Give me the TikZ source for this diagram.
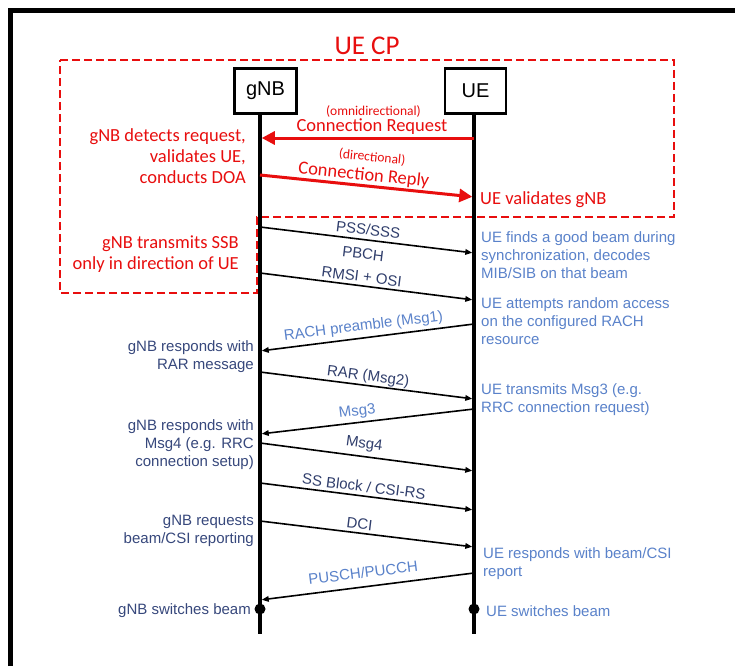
\documentclass[tikz,border=0pt]{standalone}
\usepackage{fontspec}
\setmainfont{Liberation Sans}
\newfontfamily\cpfont{Carlito}
\usetikzlibrary{arrows.meta}
\definecolor{cpred}{RGB}{232,14,14}
\definecolor{gnbtext}{RGB}{55,72,124}
\definecolor{uetext}{RGB}{90,130,202}
\definecolor{dltext}{RGB}{48,62,108}
\begin{document}
\begin{tikzpicture}[x=1pt,y=-1pt,
  frame/.style={line width=5pt, line join=miter},
  entity/.style={draw, line width=2.8pt, minimum height=45pt, inner sep=0pt, font=\fontsize{20}{24}\selectfont},
  lifeline/.style={line width=3.5pt},
  beamdot/.style={circle, fill, inner sep=0pt, minimum size=11pt},
  cpregion/.style={draw=cpred, line width=2pt, dash pattern=on 8pt off 4pt},
  cptext/.style={text=cpred, inner sep=0pt, font=\cpfont\fontsize{18.5}{21}\selectfont},
  cpnote/.style={text=cpred, inner sep=0pt, font=\cpfont\fontsize{13.5}{16}\selectfont},
  cpmsg/.style={draw=cpred, line width=3pt, -{Triangle[length=13pt,width=13pt]}, shorten >=1.75pt},
  dlmsg/.style={line width=1.6pt, -{Triangle[length=7pt,width=5.5pt]}, shorten >=1.75pt},
  ulmsg/.style={line width=1.6pt, {Triangle[length=7pt,width=5.5pt]}-, shorten <=1.75pt},
  msglabel/.style={sloped, inner sep=0pt, font=\fontsize{15}{18}\selectfont},
  dllabel/.style={msglabel, text=dltext},
  ullabel/.style={msglabel, text=uetext},
  gnbnote/.style={text=gnbtext, inner sep=0pt, align=right, anchor=north east, font=\fontsize{15}{18}\selectfont},
  uenote/.style={text=uetext, inner sep=0pt, align=left, anchor=north west, font=\fontsize{15}{18}\selectfont},
]
\useasboundingbox (0,0) rectangle (735,666);
\fill[white] (0,0) rectangle (735,666);

% outer frame
\draw[frame] (10.5,666) -- (10.5,10.5) -- (735,10.5);

% control-plane region
\draw[cpregion] (60,60) -- (674,60) -- (674,217) -- (257,217) -- (257,293) -- (60,293) -- cycle;
\node[text=cpred, inner sep=0pt, anchor=base, font=\cpfont\fontsize{27}{32}\selectfont] (cp) at (367,54.5) {UE CP};

% entities
\node[entity, minimum width=62pt] (gnb) at (265.5,91) {gNB};
\node[entity, minimum width=61pt] (ue) at (475.5,91) {UE};

% lifelines
\coordinate (gtop) at (260,114);
\coordinate (gend) at (260,634);
\coordinate (utop) at (474,114);
\coordinate (uend) at (474,634);
\draw[lifeline] (gtop) -- (gend);
\draw[lifeline] (utop) -- (uend);

% message points on the gNB lifeline
\coordinate (gq) at (260,138);
\coordinate (gr) at (260,175);
\coordinate (g1) at (260,227);
\coordinate (g2) at (260,273);
\coordinate (g3) at (260,351);
\coordinate (g4) at (260,372);
\coordinate (g5) at (260,434);
\coordinate (g6) at (260,443);
\coordinate (g7) at (260,483);
\coordinate (g8) at (260,521);
\coordinate (g9) at (260,600);
% message points on the UE lifeline
\coordinate (uq) at (474,138);
\coordinate (ur) at (474,197);
\coordinate (u1) at (474,253);
\coordinate (u2) at (474,300);
\coordinate (u3) at (474,324);
\coordinate (u4) at (474,399);
\coordinate (u5) at (474,409);
\coordinate (u6) at (474,471);
\coordinate (u7) at (474,510);
\coordinate (u8) at (474,547);
\coordinate (u9) at (474,573);

% connection set-up
\draw[cpmsg] (uq) -- node[pos=0.477, above=2pt, cptext] (creq) {Connection Request} (gq);
\path (uq) -- node[pos=0.47, above=20.5pt, cpnote] (omni) {(omnidirectional)} (gq);
\draw[cpmsg] (gr) -- node[pos=0.48, sloped, above=1pt, cptext] (crep) {Connection Reply} (ur);
\path (gr) -- node[pos=0.51, sloped, above=23pt, cpnote] (dirn) {(directional)} (ur);

\node[cptext, align=right, anchor=north east] (gdet) at (246,128) {gNB detects request,\\validates UE,\\conducts DOA};
\node[cptext, anchor=base west] (uval) at (480,204) {UE validates gNB};
\node[cptext, align=right, anchor=north east] (gssb) at (239,236) {gNB transmits SSB\\only in direction of UE};

% initial access and beam management
\draw[dlmsg] (g1) -- node[pos=0.5, above=4pt, dllabel] {PSS/SSS}
                     node[pos=0.49, below=8pt, dllabel] {PBCH} (u1);
\draw[dlmsg] (g2) -- node[pos=0.47, above=3pt, dllabel] {RMSI + OSI} (u2);
\draw[ulmsg] (g3) -- node[pos=0.49, above=3.5pt, ullabel] {RACH preamble (Msg1)} (u3);
\draw[dlmsg] (g4) -- node[pos=0.5, above=1pt, dllabel] {RAR (Msg2)} (u4);
\draw[ulmsg] (g5) -- node[pos=0.46, above=3pt, ullabel] {Msg3} (u5);
\draw[dlmsg] (g6) -- node[pos=0.48, above=4.3pt, dllabel] {Msg4} (u6);
\draw[dlmsg] (g7) -- node[pos=0.48, above=3.3pt, dllabel] {SS Block / CSI-RS} (u7);
\draw[dlmsg] (g8) -- node[pos=0.46, above=2.9pt, dllabel] {DCI} (u8);
\draw[ulmsg] (g9) -- node[pos=0.49, above=8pt, ullabel] {PUSCH/PUCCH} (u9);

\node[beamdot] (gsw) at (260,609) {};
\node[beamdot] (usw) at (474,609) {};

% gNB side notes
\node[gnbnote] (grar) at (254,340.5) {gNB responds with\\RAR message};
\node[gnbnote] (gmsg4) at (254,419.5) {gNB responds with\\Msg4 (e.g. RRC\\connection setup)};
\node[gnbnote] (grep) at (254,514.5) {gNB requests\\beam/CSI reporting};
\node[gnbnote, anchor=base east] (gswt) at (251,614.5) {gNB switches beam};

% UE side notes
\node[uenote] (usync) at (481,231.5) {UE finds a good beam during\\synchronization, decodes\\MIB/SIB on that beam};
\node[uenote] (urach) at (481,297.5) {UE attempts random access\\on the configured RACH\\resource};
\node[uenote] (umsg3) at (481,383.5) {UE transmits Msg3 (e.g.\\RRC connection request)};
\node[uenote] (urep) at (483,547.5) {UE responds with beam/CSI\\report};
\node[uenote, anchor=base west] (uswt) at (486,616.5) {UE switches beam};
\end{tikzpicture}
\end{document}
